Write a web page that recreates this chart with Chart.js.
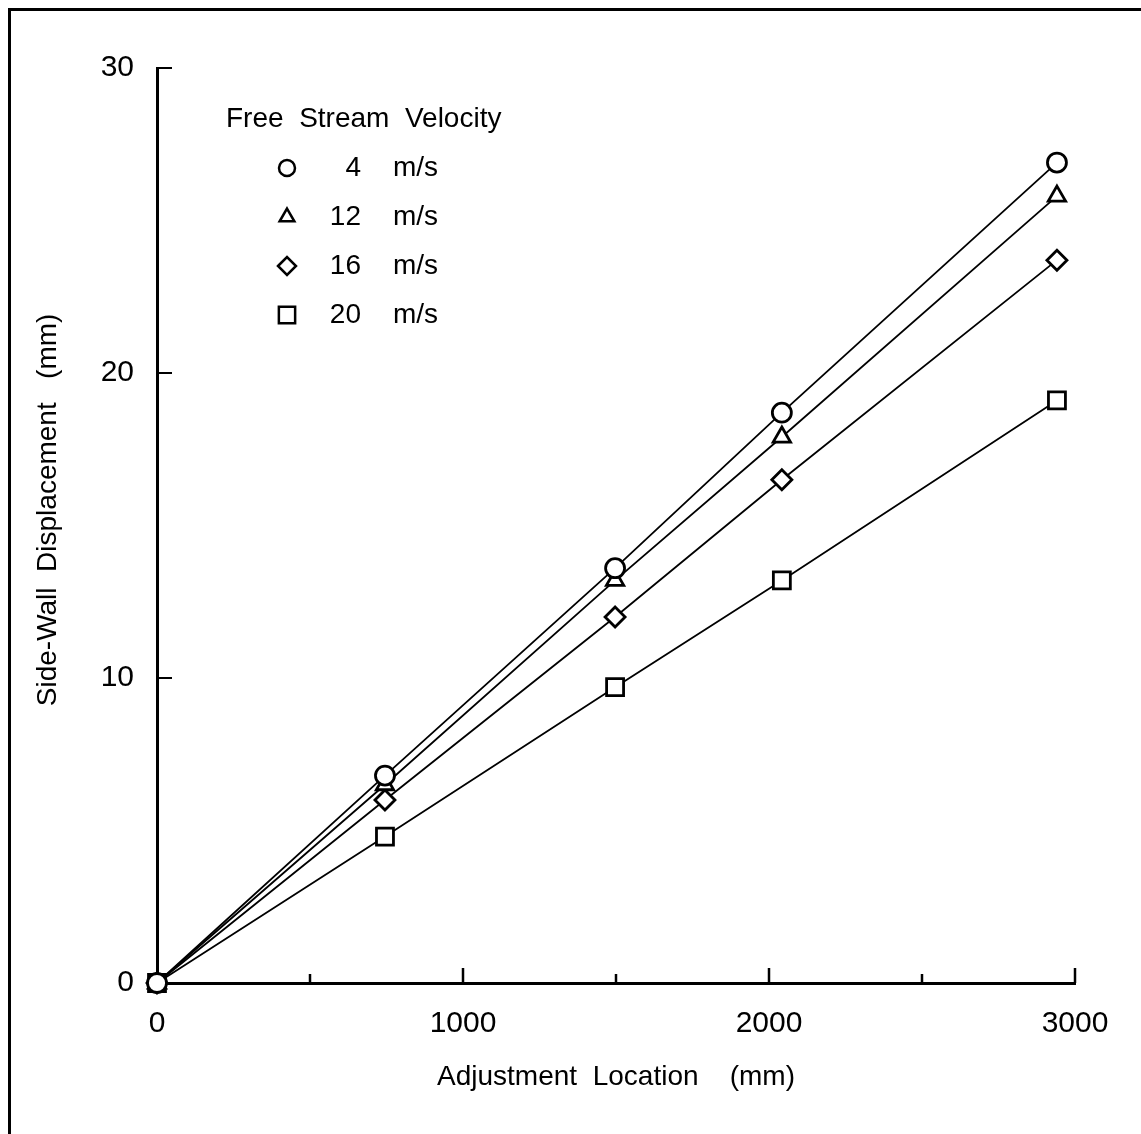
<!DOCTYPE html>
<html>
<head>
<meta charset="utf-8">
<script src="https://cdn.jsdelivr.net/npm/chart.js@4.4.0/dist/chart.umd.min.js"></script>
<style>
  html, body { margin: 0; padding: 0; background: #fff; overflow: hidden; }
  #frame {
    position: absolute; left: 8px; top: 8px;
    width: 1200px; height: 1200px;
    border: 3px solid #000;
  }
  #wrap { position: absolute; left: 0; top: 0; width: 1141px; height: 1134px; }
</style>
</head>
<body>
<div id="frame"></div>
<div id="wrap"><canvas id="sideWall" width="1141" height="1134"></canvas></div>
<script>
// adjustment locations (mm)
const locations = [0, 745, 1497, 2042, 2941];
// free stream velocities (m/s)
const speeds = [4, 12, 16, 20];
// side-wall displacement (mm) per velocity
const disp4 = [0, 6.8, 13.6, 18.7, 26.9];
const disp12 = [0, 6.5, 13.2, 17.9, 25.8];
const disp16 = [0, 6.0, 12.0, 16.5, 23.7];
const disp20 = [0, 4.8, 9.7, 13.2, 19.1];
const xTicks = [0, 1000, 2000, 3000];
const yTicks = [0, 10, 20, 30];

const markers = [
  { style: "circle", radius: 9.5, legendRadius: 8 },
  { style: "triangle", radius: 10, legendRadius: 8.5 },
  { style: "rectRot", radius: 10, legendRadius: 9 },
  { style: "rect", radius: 12, legendRadius: 11.5 },
];
const series = [disp4, disp12, disp16, disp20];

const FONT = "'Liberation Sans', Arial, Helvetica, sans-serif";

function makeDataset(values, i) {
  return {
    label: speeds[i] + " m/s",
    data: locations.map((x, k) => ({ x: x, y: values[k] })),
    borderColor: "#000",
    borderWidth: 1.8,
    pointStyle: markers[i].style,
    pointRadius: markers[i].radius,
    pointBorderWidth: 2.8,
    pointBorderColor: "#000",
    pointBackgroundColor: "#fff",
    tension: 0,
    clip: false,
  };
}

// inward tick marks + in-plot legend
const tickAndLegend = {
  id: "tickAndLegend",
  afterDatasetsDraw(chart) {
    const ctx = chart.ctx;
    const xs = chart.scales.x;
    const ys = chart.scales.y;
    const area = chart.chartArea;
    ctx.save();
    ctx.strokeStyle = "#000";
    ctx.lineWidth = 2.5;
    for (let v = 500; v <= 3000; v += 500) {
      const px = xs.getPixelForValue(v);
      const len = v % 1000 === 0 ? 15 : 9;
      ctx.beginPath();
      ctx.moveTo(px, area.bottom);
      ctx.lineTo(px, area.bottom - len);
      ctx.stroke();
    }
    ctx.lineWidth = 2;
    yTicks.slice(1).forEach(function (v) {
      const py = ys.getPixelForValue(v);
      ctx.beginPath();
      ctx.moveTo(area.left, py);
      ctx.lineTo(area.left + 15, py);
      ctx.stroke();
    });

    // legend
    ctx.fillStyle = "#000";
    ctx.font = "28px " + FONT;
    ctx.textBaseline = "middle";
    ctx.textAlign = "left";
    ctx.fillText("Free  Stream  Velocity", 226, 119);
    speeds.forEach(function (s, i) {
      const y = 168 + i * 49;
      ctx.fillStyle = "#fff";
      ctx.strokeStyle = "#000";
      ctx.lineWidth = 2.5;
      Chart.helpers.drawPoint(ctx, {
        pointStyle: markers[i].style,
        radius: markers[i].legendRadius,
        rotation: 0,
        borderWidth: 2.5,
      }, 287, y);
      ctx.fillStyle = "#000";
      ctx.textAlign = "right";
      ctx.fillText(String(s), 361, y);
      ctx.textAlign = "left";
      ctx.fillText("m/s", 393, y);
    });
    ctx.restore();
  },
};

new Chart(document.getElementById("sideWall"), {
  type: "line",
  data: { datasets: series.map(makeDataset) },
  plugins: [tickAndLegend],
  options: {
    responsive: false,
    animation: false,
    events: [],
    layout: { padding: { left: 0, top: 68, right: 66, bottom: 0 } },
    plugins: { legend: { display: false }, tooltip: { enabled: false } },
    scales: {
      x: {
        type: "linear",
        min: 0,
        max: 3000,
        afterBuildTicks(scale) {
          scale.ticks = xTicks.map((v) => ({ value: v }));
        },
        afterFit(scale) { scale.height = 151; },
        grid: { display: false },
        border: { display: true, color: "#000", width: 3 },
        ticks: {
          color: "#000",
          font: { family: FONT, size: 30 },
          padding: 15,
          maxRotation: 0,
          callback: (value) => String(value),
        },
        title: {
          display: true,
          text: "Adjustment  Location    (mm)",
          color: "#000",
          font: { family: FONT, size: 28 },
          padding: { top: 0, bottom: 40 },
        },
      },
      y: {
        type: "linear",
        min: 0,
        max: 30,
        afterBuildTicks(scale) {
          scale.ticks = yTicks.map((v) => ({ value: v }));
        },
        afterFit(scale) { scale.width = 157; },
        grid: { display: false },
        border: { display: true, color: "#000", width: 3 },
        ticks: {
          color: "#000",
          font: { family: FONT, size: 30 },
          padding: 15,
          callback: (value) => String(value),
        },
        title: {
          display: true,
          text: "    Side-Wall  Displacement   (mm)",
          color: "#000",
          font: { family: FONT, size: 28 },
          padding: { top: 31, bottom: 0 },
        },
      },
    },
  },
});
</script>
</body>
</html>
